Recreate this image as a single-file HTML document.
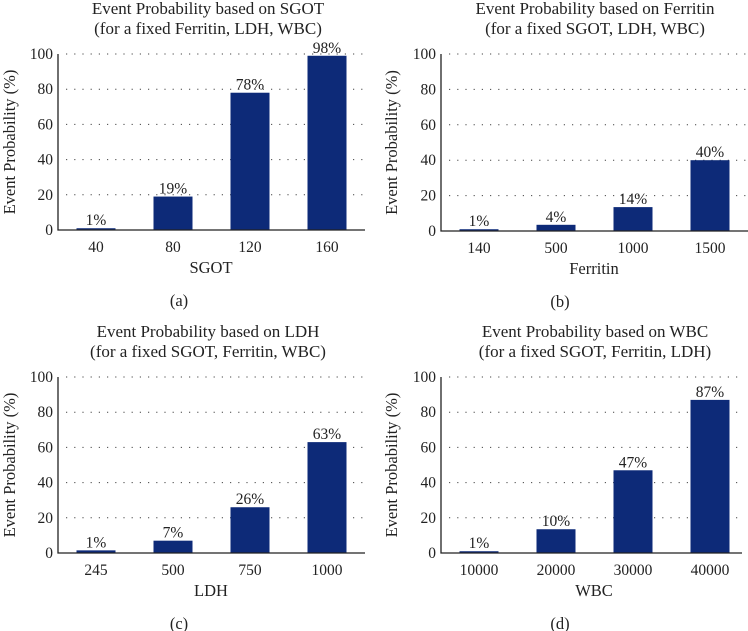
<!DOCTYPE html>
<html><head><meta charset="utf-8"><style>
body{margin:0;background:#fff;}
svg{display:block;font-family:"Liberation Serif",serif;}
</style></head><body>
<svg id="chart" width="748" height="631" viewBox="0 0 748 631"></svg>
<script>
const catsA=["40","80","120","160"];
const valsA=[1,19,78,99];
const lblsA=["1%","19%","78%","98%"];
const catsB=["140","500","1000","1500"];
const valsB=[1,3.5,13.5,40];
const lblsB=["1%","4%","14%","40%"];
const catsC=["245","500","750","1000"];
const valsC=[1.5,7,26,63];
const lblsC=["1%","7%","26%","63%"];
const catsD=["10000","20000","30000","40000"];
const valsD=[1,13.5,47,87];
const lblsD=["1%","10%","47%","87%"];
const yTicks=[0,20,40,60,80,100];

const NS="http://www.w3.org/2000/svg";
const svg=document.getElementById('chart');
function mk(tag,attrs,parent,text){const e=document.createElementNS(NS,tag);for(const k in attrs)e.setAttribute(k,attrs[k]);if(text!==undefined)e.textContent=text;parent.appendChild(e);return e;}

function panel(p){
  const g=mk('g',{},svg);
  
  
  const y=v=>p.y0-(v/100)*(p.y0-p.y100);
  const x=i=>p.ox+38+i*77;
  const t1=mk('text',{x:p.tc,y:p.y100-40,'text-anchor':'middle','font-size':17,fill:'#222'},g,p.t1);
  
  
  const t2=mk('text',{x:p.tc,y:p.y100-20,'text-anchor':'middle','font-size':17,fill:'#222'},g,p.t2);
  
  
  yTicks.forEach(v=>{
    if(v>0){const gl=mk('line',{x1:p.ox+8,x2:p.xe,y1:y(v),y2:y(v),stroke:'#444','stroke-width':1,'stroke-dasharray':'1.2,7'},g);
      
      }
    const tl=mk('text',{x:p.ox-5,y:y(v)+5,'text-anchor':'end','font-size':15.5,fill:'#222'},g,String(v));
    
    
  });
  p.vals.forEach((v,i)=>{
    const b=mk('rect',{x:x(i)-19.5,y:y(v),width:39,height:p.y0-y(v),fill:'#0d2a78'},g);
    
    
    const l=mk('text',{x:x(i),y:y(v)-3,'text-anchor':'middle','font-size':15.5,fill:'#222'},g,p.lbls[i]);
    
    
    const c=mk('text',{x:x(i),y:p.y0+22,'text-anchor':'middle','font-size':15.5,fill:'#222'},g,p.cats[i]);
    
    
  });
  const ax=mk('path',{d:`M${p.ox},${p.y100} V${p.y0} H${p.xe}`,stroke:'#222','stroke-width':1.3,fill:'none'},g);
  
  
  const xt=mk('text',{x:p.ox+153,y:p.y0+43,'text-anchor':'middle','font-size':16.5,fill:'#222'},g,p.xl);
  
  
  const cx=(p.y0+p.y100)/2;
  const yt=mk('text',{x:p.yx,y:cx,'text-anchor':'middle','font-size':16.5,fill:'#222',transform:`rotate(-90 ${p.yx} ${cx})`},g,'Event Probability (%)');
  
  
  const cap=mk('text',{x:p.capx,y:p.y0+76,'text-anchor':'middle','font-size':16.5,fill:'#222'},g,'('+p.id+')');
  
  
}
panel({id:'a',ox:58,y0:230,y100:54,xe:365,tc:208,yx:15,capx:179,cats:catsA,vals:valsA,lbls:lblsA,xl:'SGOT',t1:'Event Probability based on SGOT',t2:'(for a fixed Ferritin, LDH, WBC)'});
panel({id:'b',ox:441,y0:231,y100:54,xe:748,tc:595,yx:397,capx:560,cats:catsB,vals:valsB,lbls:lblsB,xl:'Ferritin',t1:'Event Probability based on Ferritin',t2:'(for a fixed SGOT, LDH, WBC)'});
panel({id:'c',ox:58,y0:553,y100:377,xe:365,tc:208,yx:15,capx:179,cats:catsC,vals:valsC,lbls:lblsC,xl:'LDH',t1:'Event Probability based on LDH',t2:'(for a fixed SGOT, Ferritin, WBC)'});
panel({id:'d',ox:441,y0:553,y100:377,xe:742,tc:595,yx:397,capx:560,cats:catsD,vals:valsD,lbls:lblsD,xl:'WBC',t1:'Event Probability based on WBC',t2:'(for a fixed SGOT, Ferritin, LDH)'});
</script>
</body></html>
